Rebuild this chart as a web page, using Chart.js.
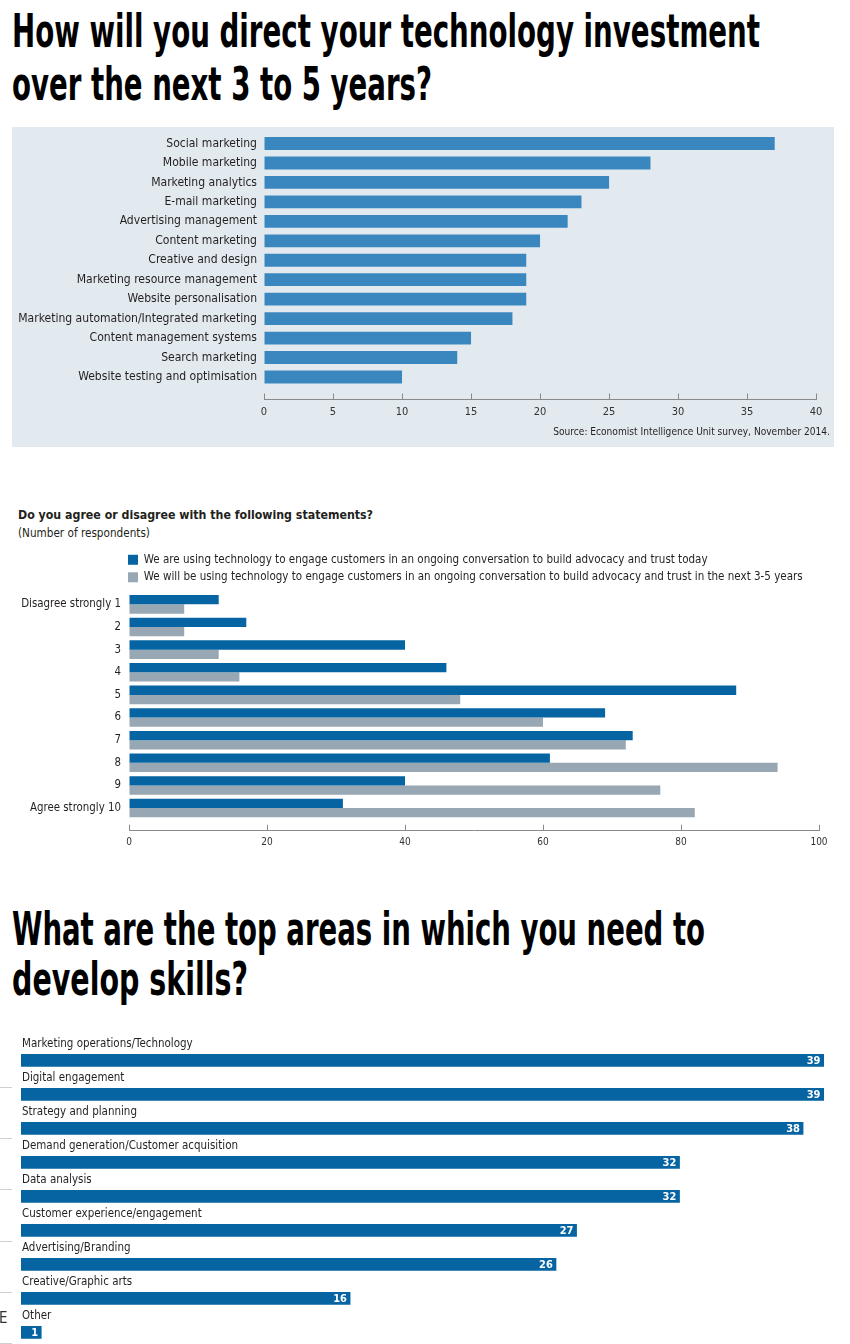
<!DOCTYPE html>
<html>
<head>
<meta charset="utf-8">
<script src="https://cdn.jsdelivr.net/npm/chart.js@4.4.1/dist/chart.umd.min.js"></script>
<style>
html, body { margin: 0; padding: 0; background: #fff; }
body { width: 850px; height: 1344px; position: relative; overflow: hidden; color: #231f20; }
.line { position: absolute; left: 12px; white-space: nowrap; font-weight: bold; transform-origin: 0 0; color: #000; }
.txt { position: absolute; white-space: nowrap; }
#panel { position: absolute; left: 12px; top: 127px; width: 822px; height: 320px; background: #e2eaef; }
canvas { position: absolute; }
.edge { position: absolute; left: 0; width: 12px; height: 1px; background: #d0d0d0; }
</style>
</head>
<body>
<div class="line" id="t1a">How will you direct your technology investment</div>
<div class="line" id="t1b">over the next 3 to 5 years?</div>

<div id="panel"></div>
<canvas id="c1" width="822" height="337" style="left:12px;top:110px"></canvas>
<div class="txt" id="src">Source: Economist Intelligence Unit survey, November 2014.</div>

<div class="txt" id="q2" style="font-weight:bold">Do you agree or disagree with the following statements?</div>
<div class="txt" id="q2sub">(Number of respondents)</div>
<canvas id="c2" width="850" height="325" style="left:0;top:545px"></canvas>

<div class="line" id="t3a">What are the top areas in which you need to</div>
<div class="line" id="t3b">develop skills?</div>
<canvas id="c3" width="850" height="340" style="left:0;top:1020px"></canvas>

<div class="edge" style="top:1087px"></div>
<div class="edge" style="top:1138px"></div>
<div class="edge" style="top:1189px"></div>
<div class="edge" style="top:1241px"></div>
<div class="edge" style="top:1292px"></div>
<div class="edge" style="top:1343px"></div>
<div class="txt" id="edgeE" style="left:-1px;top:1309px;font-size:15px;color:#333">E</div>

<script>
// chart 1: technology investment
const investCategories = ['Social marketing', 'Mobile marketing', 'Marketing analytics', 'E-mail marketing',
  'Advertising management', 'Content marketing', 'Creative and design', 'Marketing resource management',
  'Website personalisation', 'Marketing automation/Integrated marketing', 'Content management systems',
  'Search marketing', 'Website testing and optimisation'];
const investValues = [37, 28, 25, 23, 22, 20, 19, 19, 19, 18, 15, 14, 10];
const investTicks = [0, 5, 10, 15, 20, 25, 30, 35, 40];

// chart 2: agree / disagree
const agreeCategories = ['Disagree strongly 1', '2', '3', '4', '5', '6', '7', '8', '9', 'Agree strongly 10'];
const agreeSeriesNames = [
  'We are using technology to engage customers in an ongoing conversation to build advocacy and trust today',
  'We will be using technology to engage customers in an ongoing conversation to build advocacy and trust in the next 3-5 years'
];
const agreeToday = [13, 17, 40, 46, 88, 69, 73, 61, 40, 31];
const agreeFuture = [8, 8, 13, 16, 48, 60, 72, 94, 77, 82];
const agreeTicks = [0, 20, 40, 60, 80, 100];

// chart 3: skills
const skillCategories = ['Marketing operations/Technology', 'Digital engagement', 'Strategy and planning',
  'Demand generation/Customer acquisition', 'Data analysis', 'Customer experience/engagement',
  'Advertising/Branding', 'Creative/Graphic arts', 'Other'];
const skillValues = [39, 39, 38, 32, 32, 27, 26, 16, 1];

// pick a narrow font that is installed
const mctx = document.createElement('canvas').getContext('2d');
function hasFont(name) {
  const s = 'mmmmmmmmmwwwlli 0123 WQ';
  for (const base of ['monospace', 'serif']) {
    mctx.font = '40px ' + base;
    const a = mctx.measureText(s).width;
    mctx.font = '40px "' + name + '", ' + base;
    if (mctx.measureText(s).width !== a) return true;
  }
  return false;
}
const NARROW = ['Liberation Sans Narrow', 'DejaVu Sans Condensed', 'Roboto Condensed', 'Arial Narrow']
  .find(hasFont) || 'Roboto';
const FONT = '"' + NARROW + '", sans-serif';

function textWidth(text, size, weight) {
  mctx.font = (weight || 'normal') + ' ' + size + 'px ' + FONT;
  return mctx.measureText(text).width;
}
function fitSize(text, target, weight) {
  return +(100 * target / textWidth(text, 100, weight)).toFixed(2);
}

// big titles, squeezed to the reference widths
function placeTitle(id, baseline, target) {
  const el = document.getElementById(id);
  mctx.font = 'bold 100px ' + FONT;
  const capH = mctx.measureText('H').actualBoundingBoxAscent;
  const size = 100 * 33.5 / capH;
  mctx.font = 'bold ' + size + 'px ' + FONT;
  const m = mctx.measureText(el.textContent);
  const lh = 70;
  el.style.fontFamily = FONT;
  el.style.fontSize = size + 'px';
  el.style.lineHeight = lh + 'px';
  el.style.top = (baseline - ((lh - m.fontBoundingBoxAscent - m.fontBoundingBoxDescent) / 2 + m.fontBoundingBoxAscent)) + 'px';
  el.style.transform = 'scaleX(' + (target / m.width) + ')';
}
placeTitle('t1a', 47, 748);
placeTitle('t1b', 99.5, 420);
placeTitle('t3a', 945, 693);
placeTitle('t3b', 995, 236);

function placeText(id, centerY, size, left, right) {
  const el = document.getElementById(id);
  el.style.fontFamily = FONT;
  el.style.fontSize = size + 'px';
  el.style.lineHeight = '20px';
  el.style.top = (centerY - 10) + 'px';
  if (left != null) el.style.left = left + 'px';
  if (right != null) el.style.right = (850 - right) + 'px';
}
placeText('src', 432, fitSize('Source: Economist Intelligence Unit survey, November 2014.', 277), null, 830);
placeText('q2', 515, fitSize('Do you agree or disagree with the following statements?', 355, 'bold'), 18, null);
placeText('q2sub', 533, fitSize('(Number of respondents)', 132), 18, null);
document.getElementById('edgeE').style.fontFamily = FONT;

Chart.defaults.font.family = FONT;
Chart.defaults.color = '#231f20';

const investLabelSize = fitSize('Marketing automation/Integrated marketing', 239);
const agreeLabelSize = fitSize('Disagree strongly 1', 100);
const legendSize = fitSize(agreeSeriesNames[1], 659);
const skillLabelSize = fitSize('Demand generation/Customer acquisition', 216);

function valueAxis(ticks, fontSize, pad) {
  return {
    type: 'linear', axis: 'x', position: 'bottom', weight: 1,
    min: ticks[0], max: ticks[ticks.length - 1],
    afterBuildTicks: s => { s.ticks = ticks.map(v => ({ value: v })); },
    grid: { drawOnChartArea: false, tickLength: -6, color: '#8a8a8a', lineWidth: 1 },
    border: { color: '#8a8a8a', width: 1 },
    ticks: { autoSkip: false, maxRotation: 0, padding: pad, color: '#333', font: { size: fontSize } },
    afterFit: s => { s.height = 30; }
  };
}
function spacerAxis(h) {
  return {
    type: 'linear', axis: 'x', position: 'bottom', weight: 0,
    grid: { display: false, drawTicks: false }, border: { display: false }, ticks: { display: false },
    afterFit: s => { s.height = h; }
  };
}

// moves the legend rows so they start above the bars, like the original
const legendIndent = {
  id: 'legendIndent',
  afterLayout(chart, args, opts) {
    if (chart.legend) chart.legend.left = opts.left;
  }
};

// chart 1
new Chart(document.getElementById('c1'), {
  type: 'bar',
  data: {
    labels: investCategories,
    datasets: [{ data: investValues, xAxisID: 'x', backgroundColor: '#3a87bf', barPercentage: 0.66, categoryPercentage: 1 }]
  },
  options: {
    indexAxis: 'y', responsive: false, animation: false, events: [], devicePixelRatio: 1,
    layout: { padding: { top: 23.8, right: 10, bottom: 17.5, left: 0 } },
    plugins: { legend: { display: false }, tooltip: { enabled: false } },
    scales: {
      y: {
        grid: { display: false, drawTicks: false }, border: { display: false },
        ticks: { autoSkip: false, padding: 7, color: '#231f20', font: { size: investLabelSize } },
        afterFit: s => { s.width = 252; }
      },
      xs: spacerAxis(12.8),
      x: valueAxis(investTicks, 11, 11.6)
    }
  }
});

// chart 2
new Chart(document.getElementById('c2'), {
  type: 'bar',
  data: {
    labels: agreeCategories,
    datasets: [
      { label: agreeSeriesNames[0], data: agreeToday, xAxisID: 'x', backgroundColor: '#0664a3', barPercentage: 1, categoryPercentage: 0.82 },
      { label: agreeSeriesNames[1], data: agreeFuture, xAxisID: 'x', backgroundColor: '#97a8b4', barPercentage: 1, categoryPercentage: 0.82 }
    ]
  },
  options: {
    indexAxis: 'y', responsive: false, animation: false, events: [], devicePixelRatio: 1,
    layout: { padding: { top: 3, right: 31, bottom: 9.3, left: 0 } },
    plugins: {
      tooltip: { enabled: false },
      legendIndent: { left: 122 },
      legend: {
        position: 'top', align: 'start',
        labels: { boxWidth: 10, boxHeight: 10, padding: 6, color: '#231f20', font: { size: legendSize } }
      }
    },
    scales: {
      y: {
        grid: { display: false, drawTicks: false }, border: { display: false },
        ticks: { autoSkip: false, padding: 8, color: '#231f20', font: { size: agreeLabelSize } },
        afterFit: s => { s.width = 129; }
      },
      xs: spacerAxis(11.3),
      x: valueAxis(agreeTicks, 10, 11.6)
    }
  },
  plugins: [legendIndent]
});

// chart 3: numbers written inside the bar ends
const barValueLabels = {
  id: 'barValueLabels',
  afterDatasetsDraw(chart) {
    const ctx = chart.ctx;
    const meta = chart.getDatasetMeta(0);
    ctx.save();
    ctx.fillStyle = '#fff';
    ctx.font = 'bold 11px ' + FONT;
    ctx.textAlign = 'right';
    ctx.textBaseline = 'middle';
    meta.data.forEach((bar, i) => ctx.fillText(String(skillValues[i]), bar.x - 3.5, bar.y + 0.5));
    ctx.restore();
  }
};

new Chart(document.getElementById('c3'), {
  type: 'bar',
  data: {
    labels: skillCategories,
    datasets: [{ data: skillValues, backgroundColor: '#0664a3', barPercentage: 0.375, categoryPercentage: 1 }]
  },
  options: {
    indexAxis: 'y', responsive: false, animation: false, events: [], devicePixelRatio: 1,
    layout: { padding: { top: 23.3, right: 26, bottom: 10.7, left: 21 } },
    plugins: { legend: { display: false }, tooltip: { enabled: false } },
    scales: {
      y: {
        grid: { display: false, drawTicks: false }, border: { display: false },
        ticks: { autoSkip: false, mirror: true, padding: 1, labelOffset: -16.3, color: '#231f20', font: { size: skillLabelSize } },
        afterFit: s => { s.width = 0; }
      },
      x: { display: false, min: 0, max: 39 }
    }
  },
  plugins: [barValueLabels]
});
</script>
</body>
</html>
